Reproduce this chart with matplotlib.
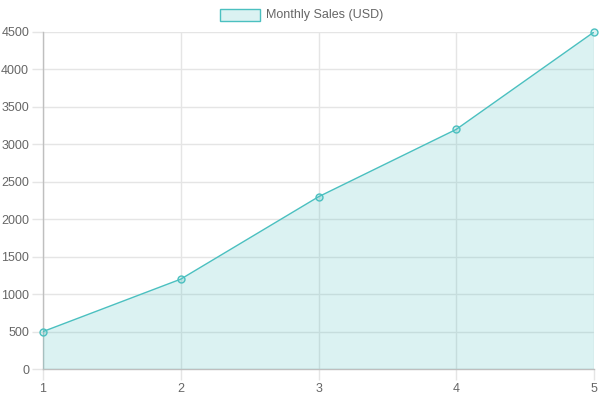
import numpy as np
import matplotlib.pyplot as plt
from matplotlib.patches import Rectangle

plt.rcParams['font.family'] = ['Liberation Sans', 'DejaVu Sans']

months = [1, 2, 3, 4, 5]
sales = [500, 1200, 2300, 3200, 4500]
label = 'Monthly Sales (USD)'

line_col = '#4bc0c0'
fill_col = (75/255, 192/255, 192/255, 0.2)
grid_col = '#e5e5e5'
axis_col = '#bfbfbf'
text_col = '#666666'

fig = plt.figure(figsize=(6, 4), dpi=100)
ax = fig.add_axes([43/600, 1 - 369/400, (594 - 43)/600, (369 - 32)/400])

ax.fill_between(months, sales, 0, facecolor=fill_col, linewidth=0, zorder=3)
ax.plot(months, sales, color=line_col, linewidth=1, zorder=3)
ax.plot(months, sales, 'o', markersize=5, markerfacecolor=fill_col,
        markeredgecolor=line_col, markeredgewidth=1, zorder=4, clip_on=False)

ax.set_xlim(1, 5)
ax.set_ylim(0, 4500)
ax.set_xticks(months)
ax.set_yticks(np.arange(0, 4501, 500))

ax.grid(True, color=grid_col, linewidth=1, zorder=1)
ax.set_axisbelow(True)
for s in ['top', 'right']:
    ax.spines[s].set_visible(False)
for s in ['left', 'bottom']:
    ax.spines[s].set_color(axis_col)
    ax.spines[s].set_linewidth(1)
ax.tick_params(length=8, width=1, color=grid_col, labelcolor=text_col,
               labelsize=9, pad=2)

# legend
fig.patches.append(Rectangle((220/600, 1 - 21/400), 40/600, 12/400,
                             transform=fig.transFigure, facecolor=fill_col,
                             edgecolor=line_col, linewidth=1))
fig.text(266/600, 1 - 15/400, label, color=text_col, fontsize=9,
         va='center', ha='left')

fig.savefig('out.png', dpi=100)
